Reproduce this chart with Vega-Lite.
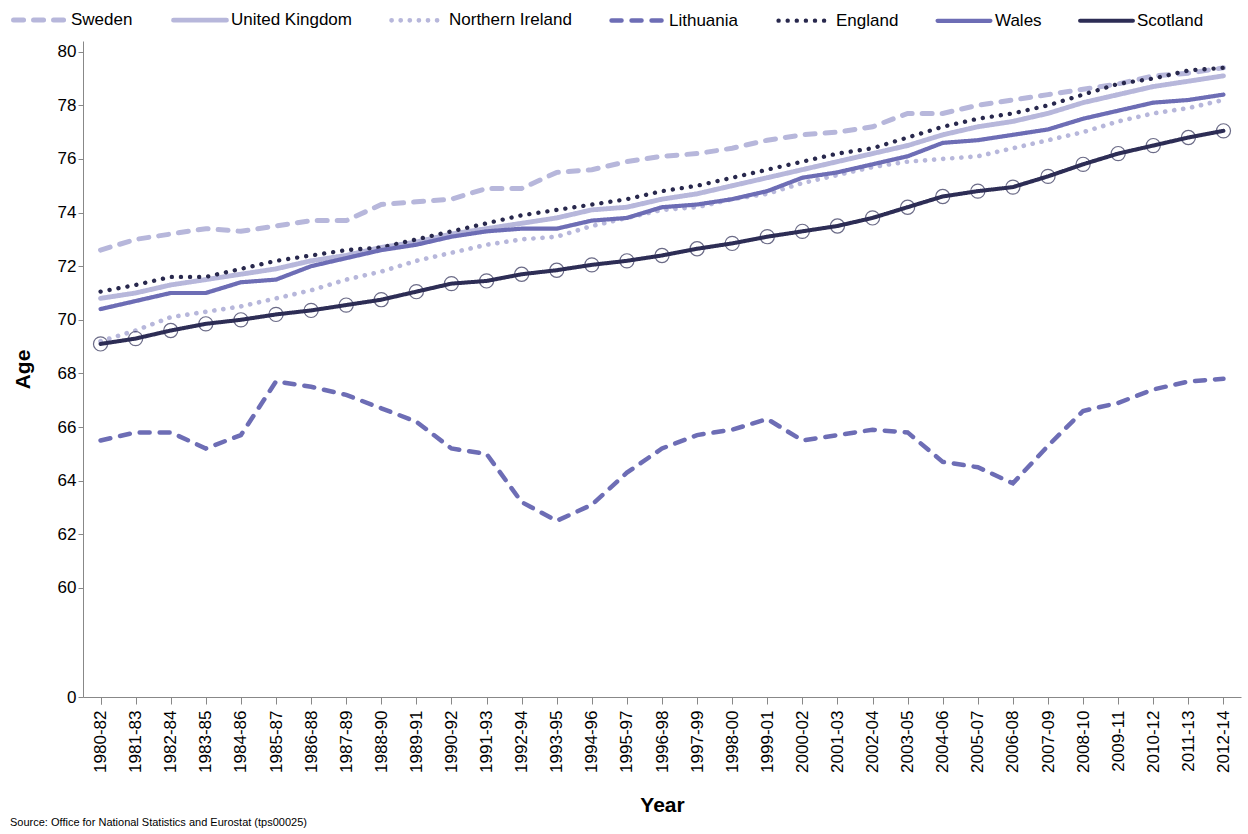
{
  "$schema": "https://vega.github.io/schema/vega-lite/v6.json",
  "autosize": {"type": "none"},
  "width": 1158,
  "height": 656,
  "padding": {"left": 83, "top": 41, "right": 7, "bottom": 137},
  "background": "white",
  "config": {
    "font": "Liberation Sans",
    "view": {"stroke": null},
    "axis": {"labelFont": "Liberation Sans", "titleFont": "Liberation Sans", "labelColor": "black", "domainColor": "#888", "tickColor": "#888", "grid": false, "labelFontSize": 17, "titleFontSize": 21, "titleFontWeight": "bold", "titleColor": "black"},
    "legend": {"labelFont": "Liberation Sans", "labelFontSize": 17, "labelColor": "black"}
  },
  "title": {"text": "Source: Office for National Statistics and Eurostat (tps00025)", "orient": "bottom", "anchor": "start", "frame": "group", "fontSize": 11, "fontWeight": "normal", "offset": 2, "dx": -73},
  "data": {"values": [
    {"y":"1980-82","Sweden":72.6,"United Kingdom":70.8,"Northern Ireland":69.2,"Lithuania":65.5,"England":71.05,"Wales":70.4,"Scotland":69.1},
    {"y":"1981-83","Sweden":73.0,"United Kingdom":71.0,"Northern Ireland":69.6,"Lithuania":65.8,"England":71.3,"Wales":70.7,"Scotland":69.3},
    {"y":"1982-84","Sweden":73.2,"United Kingdom":71.3,"Northern Ireland":70.1,"Lithuania":65.8,"England":71.6,"Wales":71.0,"Scotland":69.6},
    {"y":"1983-85","Sweden":73.4,"United Kingdom":71.5,"Northern Ireland":70.3,"Lithuania":65.2,"England":71.6,"Wales":71.0,"Scotland":69.85},
    {"y":"1984-86","Sweden":73.3,"United Kingdom":71.7,"Northern Ireland":70.5,"Lithuania":65.7,"England":71.9,"Wales":71.4,"Scotland":70.0},
    {"y":"1985-87","Sweden":73.5,"United Kingdom":71.9,"Northern Ireland":70.8,"Lithuania":67.7,"England":72.2,"Wales":71.5,"Scotland":70.2},
    {"y":"1986-88","Sweden":73.7,"United Kingdom":72.2,"Northern Ireland":71.1,"Lithuania":67.5,"England":72.4,"Wales":72.0,"Scotland":70.35},
    {"y":"1987-89","Sweden":73.7,"United Kingdom":72.4,"Northern Ireland":71.5,"Lithuania":67.2,"England":72.6,"Wales":72.3,"Scotland":70.55},
    {"y":"1988-90","Sweden":74.3,"United Kingdom":72.7,"Northern Ireland":71.8,"Lithuania":66.7,"England":72.7,"Wales":72.6,"Scotland":70.75},
    {"y":"1989-91","Sweden":74.4,"United Kingdom":72.9,"Northern Ireland":72.2,"Lithuania":66.2,"England":73.0,"Wales":72.8,"Scotland":71.05},
    {"y":"1990-92","Sweden":74.5,"United Kingdom":73.2,"Northern Ireland":72.5,"Lithuania":65.2,"England":73.3,"Wales":73.1,"Scotland":71.35},
    {"y":"1991-93","Sweden":74.9,"United Kingdom":73.4,"Northern Ireland":72.8,"Lithuania":65.0,"England":73.6,"Wales":73.3,"Scotland":71.45},
    {"y":"1992-94","Sweden":74.9,"United Kingdom":73.6,"Northern Ireland":73.0,"Lithuania":63.2,"England":73.9,"Wales":73.4,"Scotland":71.7},
    {"y":"1993-95","Sweden":75.5,"United Kingdom":73.8,"Northern Ireland":73.1,"Lithuania":62.5,"England":74.1,"Wales":73.4,"Scotland":71.85},
    {"y":"1994-96","Sweden":75.6,"United Kingdom":74.1,"Northern Ireland":73.5,"Lithuania":63.1,"England":74.3,"Wales":73.7,"Scotland":72.05},
    {"y":"1995-97","Sweden":75.9,"United Kingdom":74.2,"Northern Ireland":73.8,"Lithuania":64.3,"England":74.5,"Wales":73.8,"Scotland":72.2},
    {"y":"1996-98","Sweden":76.1,"United Kingdom":74.5,"Northern Ireland":74.1,"Lithuania":65.2,"England":74.8,"Wales":74.2,"Scotland":72.4},
    {"y":"1997-99","Sweden":76.2,"United Kingdom":74.7,"Northern Ireland":74.2,"Lithuania":65.7,"England":75.0,"Wales":74.3,"Scotland":72.65},
    {"y":"1998-00","Sweden":76.4,"United Kingdom":75.0,"Northern Ireland":74.5,"Lithuania":65.9,"England":75.3,"Wales":74.5,"Scotland":72.85},
    {"y":"1999-01","Sweden":76.7,"United Kingdom":75.3,"Northern Ireland":74.7,"Lithuania":66.3,"England":75.6,"Wales":74.8,"Scotland":73.1},
    {"y":"2000-02","Sweden":76.9,"United Kingdom":75.6,"Northern Ireland":75.1,"Lithuania":65.5,"England":75.9,"Wales":75.3,"Scotland":73.3},
    {"y":"2001-03","Sweden":77.0,"United Kingdom":75.9,"Northern Ireland":75.4,"Lithuania":65.7,"England":76.2,"Wales":75.5,"Scotland":73.5},
    {"y":"2002-04","Sweden":77.2,"United Kingdom":76.2,"Northern Ireland":75.7,"Lithuania":65.9,"England":76.4,"Wales":75.8,"Scotland":73.8},
    {"y":"2003-05","Sweden":77.7,"United Kingdom":76.5,"Northern Ireland":75.9,"Lithuania":65.8,"England":76.8,"Wales":76.1,"Scotland":74.2},
    {"y":"2004-06","Sweden":77.7,"United Kingdom":76.9,"Northern Ireland":76.0,"Lithuania":64.7,"England":77.2,"Wales":76.6,"Scotland":74.6},
    {"y":"2005-07","Sweden":78.0,"United Kingdom":77.2,"Northern Ireland":76.1,"Lithuania":64.5,"England":77.5,"Wales":76.7,"Scotland":74.8},
    {"y":"2006-08","Sweden":78.2,"United Kingdom":77.4,"Northern Ireland":76.4,"Lithuania":63.9,"England":77.7,"Wales":76.9,"Scotland":74.95},
    {"y":"2007-09","Sweden":78.4,"United Kingdom":77.7,"Northern Ireland":76.7,"Lithuania":65.3,"England":78.0,"Wales":77.1,"Scotland":75.35},
    {"y":"2008-10","Sweden":78.6,"United Kingdom":78.1,"Northern Ireland":77.0,"Lithuania":66.6,"England":78.4,"Wales":77.5,"Scotland":75.8},
    {"y":"2009-11","Sweden":78.8,"United Kingdom":78.4,"Northern Ireland":77.4,"Lithuania":66.9,"England":78.8,"Wales":77.8,"Scotland":76.2},
    {"y":"2010-12","Sweden":79.1,"United Kingdom":78.7,"Northern Ireland":77.7,"Lithuania":67.4,"England":79.0,"Wales":78.1,"Scotland":76.5},
    {"y":"2011-13","Sweden":79.2,"United Kingdom":78.9,"Northern Ireland":77.9,"Lithuania":67.7,"England":79.3,"Wales":78.2,"Scotland":76.8},
    {"y":"2012-14","Sweden":79.4,"United Kingdom":79.1,"Northern Ireland":78.2,"Lithuania":67.8,"England":79.4,"Wales":78.4,"Scotland":77.05}
  ]},
  "transform": [
    {"fold": ["Sweden","United Kingdom","Northern Ireland","Lithuania","England","Wales","Scotland"], "as": ["series","age"]}
  ],
  "encoding": {
    "x": {"field": "y", "type": "ordinal", "sort": null, "scale": {"type": "point", "padding": 0.5},
      "axis": {"title": "Year", "labelAngle": -90, "labelAlign": "right", "labelBaseline": "middle", "labelPadding": 6, "ticks": true, "tickBand": "extent", "tickSize": 7, "titlePadding": 22}},
    "y": {"field": "age", "type": "quantitative", "scale": {"domain": [55.93, 80.4], "nice": false, "zero": false},
      "axis": {"title": "Age", "values": [55.93,60,62,64,66,68,70,72,74,76,78,80], "labelExpr": "datum.value < 57 ? '0' : datum.label", "tickSize": 5, "titlePadding": 24}}
  },
  "layer": [
    {
      "mark": {"type": "line", "strokeCap": "round"},
      "encoding": {
        "color": {"field": "series", "type": "nominal", "sort": ["Sweden","United Kingdom","Northern Ireland","Lithuania","England","Wales","Scotland"],
          "scale": {"domain": ["Sweden","United Kingdom","Northern Ireland","Lithuania","England","Wales","Scotland"], "range": ["#b7b7db","#b7b7db","#b7b7db","#6d6db5","#28284d","#6d6db5","#2d2d55"]},
          "legend": {"orient": "none", "legendX": -72, "legendY": -50, "direction": "horizontal", "title": null, "symbolType": "stroke", "symbolSize": 2800, "symbolStrokeWidth": 4, "columnPadding": 30, "labelOffset": 2,
            "encode": {"symbols": {"update": {"strokeCap": {"value": "round"}}}}}},
        "strokeDash": {"field": "series", "type": "nominal",
          "scale": {"domain": ["Sweden","United Kingdom","Northern Ireland","Lithuania","England","Wales","Scotland"], "range": [[10,10],[1,0],[0.1,9],[10,10],[0.1,9],[1,0],[1,0]]},
          "legend": null},
        "strokeWidth": {"field": "series", "type": "nominal",
          "scale": {"domain": ["Sweden","United Kingdom","Northern Ireland","Lithuania","England","Wales","Scotland"], "range": [5,4,5,4,5,4,4.5]},
          "legend": null}
      }
    },
    {
      "transform": [{"filter": "datum.series == 'Scotland'"}],
      "mark": {"type": "point", "shape": "circle", "filled": false, "size": 200, "stroke": "#2d2d55", "strokeWidth": 1.2}
    }
  ]
}
